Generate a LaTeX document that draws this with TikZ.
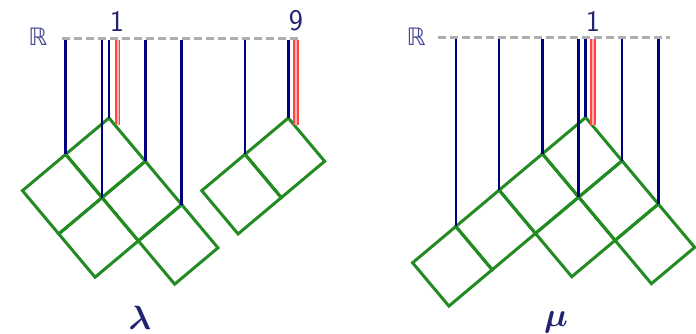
\documentclass[tikz,border=0pt]{standalone}
\usepackage{bm}
\usepackage{fontspec}
\newfontfamily\dejavu{DejaVu Sans}
\usetikzlibrary{calc}
\definecolor{lineblue}{RGB}{0,0,128}
\definecolor{txtblue}{RGB}{35,35,115}
\definecolor{rblue}{RGB}{70,70,150}
\definecolor{ygreen}{RGB}{34,139,34}
\definecolor{dashgray}{RGB}{175,175,175}
\definecolor{redline}{RGB}{255,70,70}
\definecolor{pinkline}{RGB}{255,175,175}
\begin{document}
\begin{tikzpicture}[x=1pt,y=-1pt,
  cellline/.style={draw=ygreen, line width=3pt, line join=miter},
  axisline/.style={draw=dashgray, line width=3pt, dash pattern=on 8pt off 4pt},
  bar/.style={draw=lineblue, line width=2.6pt},
  redbar/.style={draw=redline, line width=1.4pt, double=pinkline, double distance=2.4pt},
  numlbl/.style={text=txtblue, font=\fontsize{30}{32}\sffamily, inner sep=0pt},
  rlbl/.style={text=rblue, font=\fontsize{24}{26}\dejavu, inner sep=0pt},
  namelbl/.style={text=txtblue, font=\fontsize{24.88}{27}\selectfont, inner sep=0pt, scale=1.35},
  rot/.style={x={(-43.28pt,-36.32pt)}, y={(36.32pt,-43.28pt)}}
]
\path[use as bounding box] (0,0) rectangle (696,334);

% axes
\coordinate (axL1) at (62,38.5);
\coordinate (axL2) at (300,38.5);
\coordinate (axR1) at (438,37.5);
\coordinate (axR2) at (670,37.5);
\draw[axisline] (axL1) -- (axL2);
\draw[axisline] (axR1) -- (axR2);
\coordinate (tL) at (0,40);
\coordinate (tR) at (0,39);

% labels
\node[rlbl] (RL) at (38,37) {ℝ};
\node[rlbl] (RR) at (416,37) {ℝ};
\node[numlbl] (oneL) at (117,21) {1};
\node[numlbl] (nineL) at (296,21) {9};
\node[numlbl] (oneR) at (593,21) {1};
\node[namelbl] (lam) at (140,317.5) {$\bm{\lambda}$};
\node[namelbl] (mu) at (556,322) {$\bm{\mu}$};

% lambda, first part
\begin{scope}[shift={(109,118)}, rot]
  \foreach \i/\j in {0/0,1/0,0/1,1/1,0/2}
    \draw[cellline] (\i,\j) -- (\i+1,\j) -- (\i+1,\j+1) -- (\i,\j+1) -- cycle;
  \coordinate (a0) at (0,0);
  \coordinate (a1) at (1,0);
  \coordinate (a2) at (1,1);
  \coordinate (a3) at (0,1);
  \coordinate (a4) at (0,2);
\end{scope}
% lambda, second part
\begin{scope}[shift={(288.3,118)}, rot]
  \foreach \i/\j in {0/0,1/0}
    \draw[cellline] (\i,\j) -- (\i+1,\j) -- (\i+1,\j+1) -- (\i,\j+1) -- cycle;
  \coordinate (b0) at (0,0);
  \coordinate (b1) at (1,0);
\end{scope}
% mu
\begin{scope}[shift={(585.7,117.5)}, rot]
  \foreach \i/\j in {0/0,1/0,2/0,3/0,0/1,1/1,0/2}
    \draw[cellline] (\i,\j) -- (\i+1,\j) -- (\i+1,\j+1) -- (\i,\j+1) -- cycle;
  \coordinate (m0) at (0,0);
  \coordinate (m1) at (1,0);
  \coordinate (m2) at (2,0);
  \coordinate (m3) at (3,0);
  \coordinate (m4) at (1,1);
  \coordinate (m5) at (0,1);
  \coordinate (m6) at (0,2);
\end{scope}

% blue bars
\foreach \p in {a0,a1,a2,a3,a4,b0,b1}
  \draw[bar] (\p |- tL) -- (\p);
\foreach \p in {m0,m1,m2,m3,m4,m5,m6}
  \draw[bar] (\p |- tR) -- (\p);

% red bars
\coordinate (ra) at ($(a0)+(8.7,7.5)$);
\coordinate (rb) at ($(b0)+(7.6,7.5)$);
\coordinate (rm) at ($(m0)+(7.2,8)$);
\draw[redbar] (ra |- tL) -- (ra);
\draw[redbar] (rb |- tL) -- (rb);
\draw[redbar] (rm |- tR) -- (rm);
\end{tikzpicture}
\end{document}
